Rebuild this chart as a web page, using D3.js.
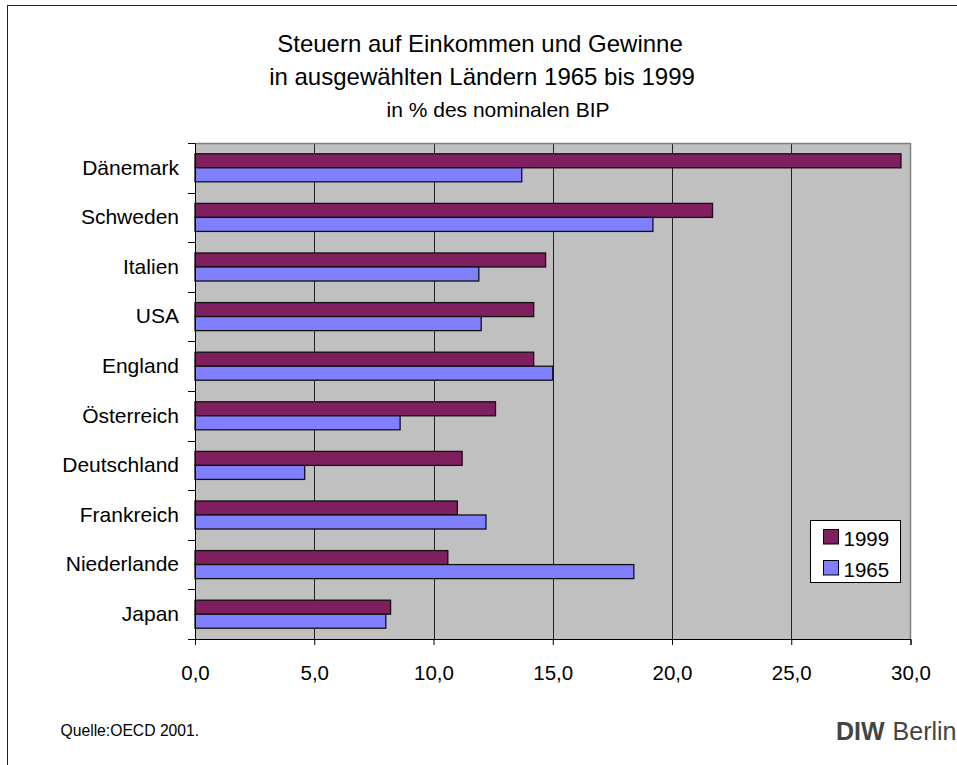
<!DOCTYPE html>
<html>
<head>
<meta charset="utf-8">
<script src="https://cdn.jsdelivr.net/npm/d3@7"></script>
<style>
  body { margin: 0; background: #fff; }
  svg { font-family: Arial, "Liberation Sans", sans-serif; }
</style>
</head>
<body>
<svg id="chart" width="957" height="765"></svg>
<script>
// Chart data
const countries = ["Dänemark", "Schweden", "Italien", "USA", "England", "Österreich", "Deutschland", "Frankreich", "Niederlande", "Japan"];
const years = ["1999", "1965"];
const values1999 = [29.6, 21.7, 14.7, 14.2, 14.2, 12.6, 11.2, 11.0, 10.6, 8.2];
const values1965 = [13.7, 19.2, 11.9, 12.0, 15.0, 8.6, 4.6, 12.2, 18.4, 8.0];
const xTicks = [0, 5, 10, 15, 20, 25, 30];

const colors = { "1999": "#7f1f5f", "1965": "#8080ff" };

const data = countries.map((c, i) => ({ country: c, "1999": values1999[i], "1965": values1965[i] }));

const svg = d3.select("#chart");
const FONT = "Arial, 'Liberation Sans', sans-serif";

// Outer frame
svg.append("rect")
  .attr("x", 7.5).attr("y", 5.5)
  .attr("width", 960).attr("height", 780)
  .attr("fill", "none").attr("stroke", "#222");

// Titles
svg.append("text").attr("x", 480).attr("y", 52).attr("text-anchor", "middle")
  .attr("font-size", 24).attr("fill", "#000").text("Steuern auf Einkommen und Gewinne");
svg.append("text").attr("x", 482).attr("y", 85).attr("text-anchor", "middle")
  .attr("font-size", 24).attr("fill", "#000").text("in ausgewählten Ländern 1965 bis 1999");
svg.append("text").attr("x", 498).attr("y", 116.5).attr("text-anchor", "middle")
  .attr("font-size", 21).attr("fill", "#000").text("in % des nominalen BIP");

// Plot area
const plotLeft = 195, plotRight = 910.5, plotTop = 143, plotBottom = 639;

const xScale = d3.scaleLinear().domain([0, 30]).range([plotLeft, plotRight]);
const yScale = d3.scaleBand().domain(countries).range([plotTop, plotBottom]).padding(0);
const inner = d3.scaleBand().domain(years).range([0, yScale.step()]).paddingInner(0).paddingOuter(0.77);

svg.append("rect")
  .attr("x", plotLeft).attr("y", plotTop)
  .attr("width", plotRight - plotLeft).attr("height", plotBottom - plotTop)
  .attr("fill", "#c0c0c0");

// Gridlines
svg.append("g")
  .selectAll("line")
  .data(xTicks.filter((t) => t > 0 && t < 30))
  .join("line")
  .attr("x1", (t) => Math.round(xScale(t)) + 0.5)
  .attr("x2", (t) => Math.round(xScale(t)) + 0.5)
  .attr("y1", plotTop).attr("y2", plotBottom)
  .attr("stroke", "#222").attr("stroke-width", 1);

// Plot border top/right
svg.append("path")
  .attr("d", `M${plotLeft},${plotTop + 0.5}H${plotRight}V${plotBottom}`)
  .attr("fill", "none").attr("stroke", "#808080").attr("stroke-width", 1.5);

// Bars
const groups = svg.append("g")
  .selectAll("g")
  .data(data)
  .join("g")
  .attr("transform", (d) => `translate(0,${yScale(d.country)})`);

groups.selectAll("rect")
  .data((d) => years.map((y) => ({ year: y, value: d[y] })))
  .join("rect")
  .attr("x", xScale(0))
  .attr("y", (d) => inner(d.year))
  .attr("width", (d) => xScale(d.value) - xScale(0))
  .attr("height", inner.bandwidth())
  .attr("fill", (d) => colors[d.year])
  .attr("stroke", "#111")
  .attr("stroke-width", 1.3);

// Axes
const yAxis = d3.axisLeft(yScale).tickSize(0).tickPadding(16);
const yG = svg.append("g").attr("transform", `translate(${plotLeft},0)`).call(yAxis);
yG.select(".domain").attr("stroke", "#000");
yG.selectAll("text").attr("font-size", 21).attr("fill", "#000").attr("font-family", FONT);

// y ticks between categories
svg.append("g")
  .selectAll("line")
  .data(d3.range(countries.length + 1))
  .join("line")
  .attr("x1", plotLeft - 7).attr("x2", plotLeft)
  .attr("y1", (i) => Math.round(plotTop + i * yScale.step()) + 0.5)
  .attr("y2", (i) => Math.round(plotTop + i * yScale.step()) + 0.5)
  .attr("stroke", "#000");

const xAxis = d3.axisBottom(xScale).tickValues(xTicks).tickSize(6).tickPadding(20)
  .tickFormat((d) => d3.format(".1f")(d).replace(".", ","));
const xG = svg.append("g").attr("transform", `translate(0,${plotBottom})`).call(xAxis);
xG.select(".domain").attr("stroke", "#000");
xG.selectAll("text").attr("font-size", 20.5).attr("fill", "#000").attr("font-family", FONT);

// Legend
const legend = svg.append("g").attr("transform", "translate(810.5,520.5)");
legend.append("rect").attr("width", 90).attr("height", 62).attr("fill", "#fff").attr("stroke", "#000");
years.forEach((y, i) => {
  legend.append("rect")
    .attr("x", 13).attr("y", 9 + i * 31)
    .attr("width", 15).attr("height", 14.5)
    .attr("fill", colors[y]).attr("stroke", "#000");
  legend.append("text")
    .attr("x", 33).attr("y", 25 + i * 31)
    .attr("font-size", 20.5).attr("fill", "#000").text(y);
});

// Footer
svg.append("text").attr("x", 60.5).attr("y", 736)
  .attr("font-size", 15.7).attr("fill", "#000").text("Quelle:OECD 2001.");

const diw = svg.append("text").attr("x", 836).attr("y", 740)
  .attr("font-size", 25).attr("fill", "#444");
diw.append("tspan").attr("font-weight", "bold").text("DIW");
diw.append("tspan").attr("dx", 1).text(" Berlin");
</script>
</body>
</html>
